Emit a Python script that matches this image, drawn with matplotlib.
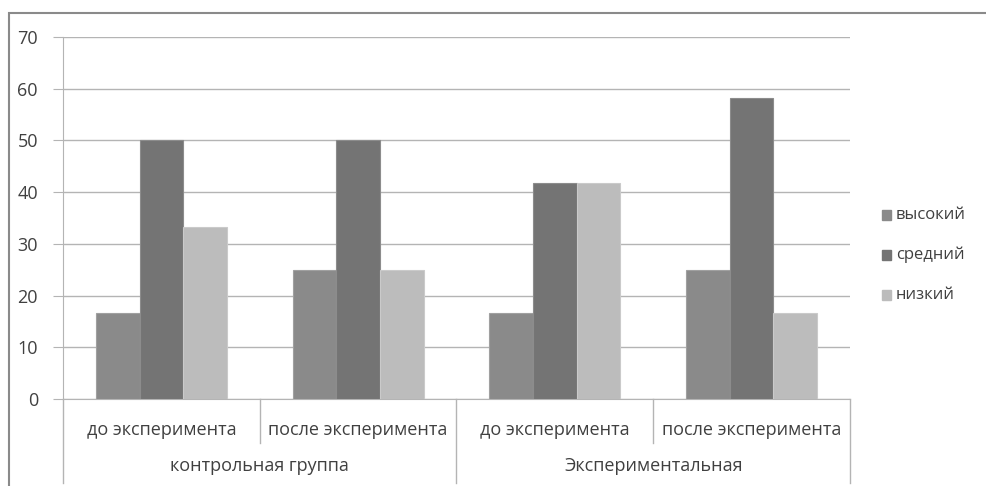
import matplotlib
matplotlib.use('Agg')
import matplotlib.pyplot as plt
from matplotlib.patches import Rectangle
from matplotlib.lines import Line2D
import numpy as np

plt.rcParams['font.family'] = ['Open Sans', 'DejaVu Sans']

groups = ['контрольная группа', 'Экспериментальная']
stages = ['до эксперимента', 'после эксперимента', 'до эксперимента', 'после эксперимента']
levels = ['высокий', 'средний', 'низкий']
high = [16.7, 25, 16.7, 25]
mid = [50, 50, 41.7, 58.3]
low = [33.3, 25, 41.7, 16.7]
colors = ['#8a8a8a', '#747474', '#bcbcbc']
edges = ['#a0a0a0', '#8c8c8c', '#cacaca']
grid_c = '#b4b4b4'
text_c = '#404040'

W, H = 987, 486
fig = plt.figure(figsize=(W / 100, H / 100), dpi=100)
x0, x1, y0, y1 = 63, 850, 399, 37
ax = fig.add_axes([x0 / W, (H - y0) / H, (x1 - x0) / W, (y0 - y1) / H])

x = np.arange(len(stages))
bw = 1 / (3 + 1.5)
for i, (vals, c, ec, lab) in enumerate(zip([high, mid, low], colors, edges, levels)):
    ax.bar(x + (i - 1) * bw, vals, bw, color=c, edgecolor=ec, linewidth=0.8,
           label=lab, zorder=3)

ax.set_xlim(-0.5, len(stages) - 0.5)
ax.set_ylim(0, 70)
ax.set_yticks(range(0, 71, 10))
ax.yaxis.grid(True, color=grid_c, linewidth=1)
ax.set_axisbelow(True)
for s in ['top', 'right']:
    ax.spines[s].set_visible(False)
for s in ['left', 'bottom']:
    ax.spines[s].set_color(grid_c)
ax.tick_params(axis='y', length=7, color=grid_c, labelsize=13, labelcolor=text_c, pad=11)
ax.set_xticks([])

# two-level category axis drawn in figure pixel coordinates
def fx(px):
    return px / W

def fy(py):
    return (H - py) / H

sep_small = [x0 + (x1 - x0) * k / 4 for k in (1, 3)]
sep_big = [x0, x0 + (x1 - x0) / 2, x1]
for px in sep_small:
    fig.add_artist(Line2D([fx(px)] * 2, [fy(y0), fy(443)], color=grid_c, lw=1))
for px in sep_big:
    fig.add_artist(Line2D([fx(px)] * 2, [fy(y0), fy(483)], color=grid_c, lw=1))
for k, s in enumerate(stages):
    cx = x0 + (x1 - x0) * (k + 0.5) / 4
    fig.text(fx(cx), fy(430), s, ha='center', va='center', fontsize=13, color=text_c)
for k, g in enumerate(groups):
    cx = x0 + (x1 - x0) * (k + 0.5) / 2
    fig.text(fx(cx), fy(466), g, ha='center', va='center', fontsize=13, color=text_c)

# legend
for k, (lab, c) in enumerate(zip(levels, colors)):
    py = 215 + 40 * k
    fig.add_artist(Rectangle((fx(882), fy(py + 5)), 9 / W, 10 / H, color=c))
    fig.text(fx(896), fy(py), lab, ha='left', va='center', fontsize=12, color=text_c)

# outer chart frame
fig.add_artist(Rectangle((fx(9), fy(H + 5)), (W - 9 + 5) / W, (H + 5 - 13) / H,
                         fill=False, edgecolor='#8a8a8a', lw=1.5))

fig.savefig('out.png', dpi=100)
